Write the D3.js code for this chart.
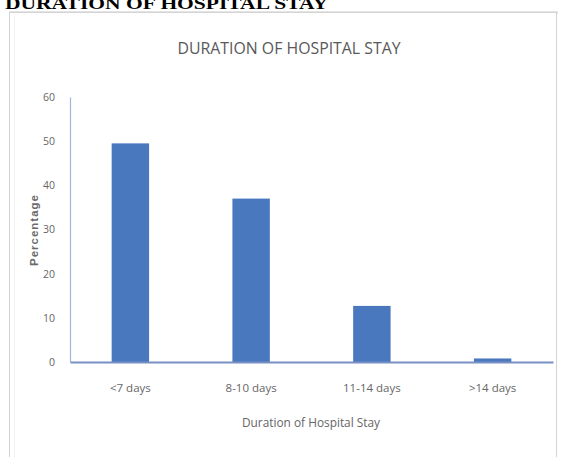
<!DOCTYPE html>
<html>
<head>
<meta charset="utf-8">
<script src="https://cdn.jsdelivr.net/npm/d3@7/dist/d3.min.js"></script>
<style>
  html, body { margin: 0; padding: 0; background: #fff; overflow: hidden; }
  svg { display: block; }
</style>
</head>
<body>
<svg id="chart" width="563" height="457"></svg>
<script>
// Length of hospital stay, share of patients (%)
const categories = ["<7 days", "8-10 days", "11-14 days", ">14 days"];
const percentages = [49.5, 37, 12.7, 0.8];
const yTicks = [0, 10, 20, 30, 40, 50, 60];

const svg = d3.select("#chart");
const W = 563, H = 457;
const narrow = "'Liberation Sans Narrow', 'Arial Narrow', 'Open Sans', sans-serif";

// Heading above the figure
svg.append("text")
  .attr("x", 5).attr("y", 8.5)
  .attr("font-family", "'Liberation Serif', 'Times New Roman', serif")
  .attr("font-weight", "bold")
  .attr("font-size", 17)
  .attr("textLength", 323)
  .attr("lengthAdjust", "spacingAndGlyphs")
  .attr("fill", "#000")
  .text("DURATION OF HOSPITAL STAY");

// Chart frame with a soft top shadow
svg.append("rect")
  .attr("x", 9).attr("y", 11).attr("width", 549).attr("height", 3)
  .attr("fill", "#e4e4e4");
svg.append("rect")
  .attr("x", 9.5).attr("y", 12.5).attr("width", 547).attr("height", 470)
  .attr("fill", "#fff").attr("stroke", "#d4d4d4").attr("stroke-width", 1);
svg.append("line")
  .attr("x1", 14.5).attr("x2", 14.5).attr("y1", 16).attr("y2", H)
  .attr("stroke", "#f1f1f1");

// Plot area
const plot = { left: 70, right: 553, top: 97, bottom: 362 };

const x = d3.scaleBand()
  .domain(categories)
  .range([plot.left, plot.right])
  .paddingInner(0.69)
  .paddingOuter(0.345);

const y = d3.scaleLinear()
  .domain([0, 60])
  .range([plot.bottom, plot.top]);

// Chart title
svg.append("text")
  .attr("x", 289).attr("y", 54)
  .attr("text-anchor", "middle")
  .attr("font-family", narrow)
  .attr("font-size", 17)
  .attr("textLength", 223)
  .attr("lengthAdjust", "spacingAndGlyphs")
  .attr("fill", "#595959")
  .text("DURATION OF HOSPITAL STAY");

// Bars
svg.append("g")
  .selectAll("rect")
  .data(categories)
  .join("rect")
  .attr("x", d => x(d))
  .attr("y", (d, i) => y(percentages[i]))
  .attr("width", x.bandwidth())
  .attr("height", (d, i) => y(0) - y(percentages[i]))
  .attr("fill", "#4a78bf");

// Y axis
const yAxis = svg.append("g")
  .attr("transform", `translate(${plot.left},0)`)
  .call(d3.axisLeft(y).tickValues(yTicks).tickSize(0).tickPadding(15));
yAxis.select(".domain").attr("stroke", "#9fb6dd").attr("stroke-width", 1.2);
yAxis.selectAll("text")
  .attr("font-family", narrow)
  .attr("font-size", 10.5)
  .attr("fill", "#666");

// X axis
const xAxis = svg.append("g")
  .attr("transform", `translate(0,${plot.bottom})`)
  .call(d3.axisBottom(x).tickSize(0).tickPadding(22));
xAxis.select(".domain").attr("stroke", "#7890c4").attr("stroke-width", 2);
xAxis.selectAll("text")
  .attr("font-family", narrow)
  .attr("font-size", 11.5)
  .attr("fill", "#666");

// Axis titles
svg.append("text")
  .attr("x", 311).attr("y", 427)
  .attr("text-anchor", "middle")
  .attr("font-family", narrow)
  .attr("font-size", 12.5)
  .attr("textLength", 138)
  .attr("lengthAdjust", "spacingAndGlyphs")
  .attr("fill", "#666")
  .text("Duration of Hospital Stay");

svg.append("text")
  .attr("transform", "translate(38,230) rotate(-90)")
  .attr("text-anchor", "middle")
  .attr("font-family", "'Liberation Sans', Arial, sans-serif")
  .attr("font-weight", "bold")
  .attr("font-size", 11.5)
  .attr("letter-spacing", 1)
  .attr("fill", "#6a6a6a")
  .text("Percentage");
</script>
</body>
</html>
